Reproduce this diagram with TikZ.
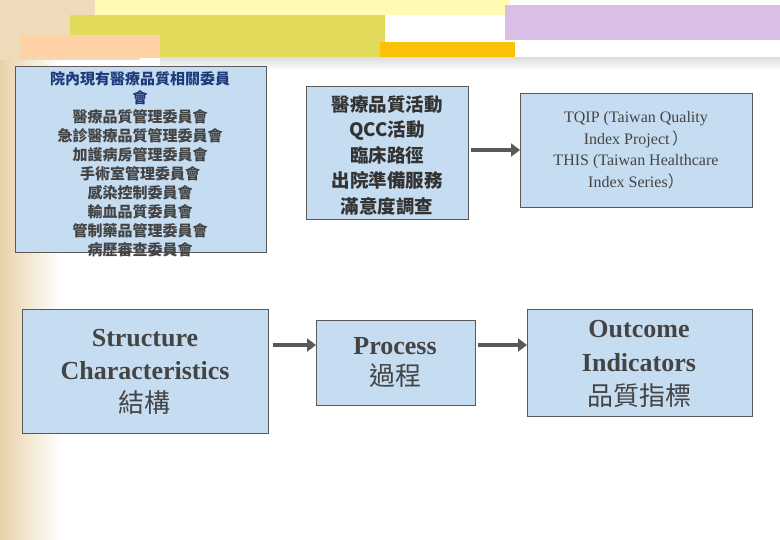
\documentclass[tikz,border=0pt]{standalone}
\usepackage{fontspec}
\setmainfont{Liberation Serif}
\newfontfamily\cjk{Noto Sans CJK TC}
\usetikzlibrary{arrows.meta}
\definecolor{boxfill}{HTML}{C6DDF1}
\definecolor{navy}{HTML}{1F3A7A}
\definecolor{txt}{HTML}{444444}
\definecolor{parch}{HTML}{E8D2A8}
\tikzset{
  box/.style={draw=gray!70!black, fill=boxfill, line width=0.8pt, align=center, inner sep=0pt, anchor=north west},
  conn/.style={-{Triangle[length=9pt,width=13pt]}, line width=4pt, draw=black!65},
}
\begin{document}
\begin{tikzpicture}[x=1pt,y=-1pt]
\useasboundingbox (0,0) rectangle (780,540);
\fill[white] (0,0) rectangle (780,540);
% background decoration
\shade[left color=parch, right color=white] (0,0) rectangle (60,540);
\fill[parch!80] (0,0) rectangle (140,60);
\fill[yellow!30] (95,0) rectangle (510,15);
\fill[olive!45!yellow!60] (70,15) rectangle (385,58);
\fill[orange!35] (20,35) rectangle (160,58);
\fill[blue!20!violet!25] (505,5) rectangle (780,40);
\fill[yellow!55!orange] (380,42) rectangle (515,58);
\shade[top color=gray!25, bottom color=white] (160,58) rectangle (780,70);
% boxes
\node[box, minimum width=251pt, minimum height=186pt] (qc) at (15,66) {};
\node[align=center, anchor=north, font=\cjk\bfseries\fontsize{15}{19}\selectfont, text=txt] at (140,68)
 {\textcolor{navy}{院內現有醫療品質相關委員}\\\textcolor{navy}{會}\\醫療品質管理委員會\\急診醫療品質管理委員會\\加護病房管理委員會\\手術室管理委員會\\感染控制委員會\\輸血品質委員會\\管制藥品管理委員會\\病歷審查委員會};
\node[box, minimum width=162pt, minimum height=133pt] (act) at (306,86) {};
\node[align=center, font=\cjk\bfseries\fontsize{18.5}{25.5}\selectfont, text=black!80] at (387,155)
 {醫療品質活動\\QCC活動\\臨床路徑\\出院準備服務\\滿意度調查};
\node[box, minimum width=232pt, minimum height=114pt] (ind) at (520,93) {};
\node[align=center, font=\fontsize{16}{21.5}\selectfont, text=txt] at (636,150)
 {TQIP (Taiwan Quality\\Index Project\,{\cjk ）}\\THIS (Taiwan Healthcare\\Index Series{\cjk ）}};
\node[box, minimum width=246pt, minimum height=124pt] (s) at (22,309) {};
\node[align=center, font=\bfseries\fontsize{26}{33}\selectfont, text=txt] at (145,372)
 {Structure\\Characteristics\\{\cjk\mdseries 結構}};
\node[box, minimum width=159pt, minimum height=85pt] (p) at (316,320) {};
\node[align=center, font=\bfseries\fontsize{26}{31}\selectfont, text=txt] at (395,363)
 {Process\\{\cjk\mdseries 過程}};
\node[box, minimum width=225pt, minimum height=107pt] (o) at (527,309) {};
\node[align=center, font=\bfseries\fontsize{26}{34}\selectfont, text=txt] at (639,364)
 {Outcome\\Indicators\\{\cjk\mdseries 品質指標}};
% connectors
\draw[conn] (act.east |- 0,150) ++(2,0) coordinate (a1) -- (a1 -| ind.west) ;
\draw[conn] (s.east |- 0,345) ++(4,0) coordinate (a2) -- (a2 -| p.west);
\draw[conn] (p.east |- 0,345) ++(2,0) coordinate (a3) -- (a3 -| o.west);
\end{tikzpicture}
\end{document}
